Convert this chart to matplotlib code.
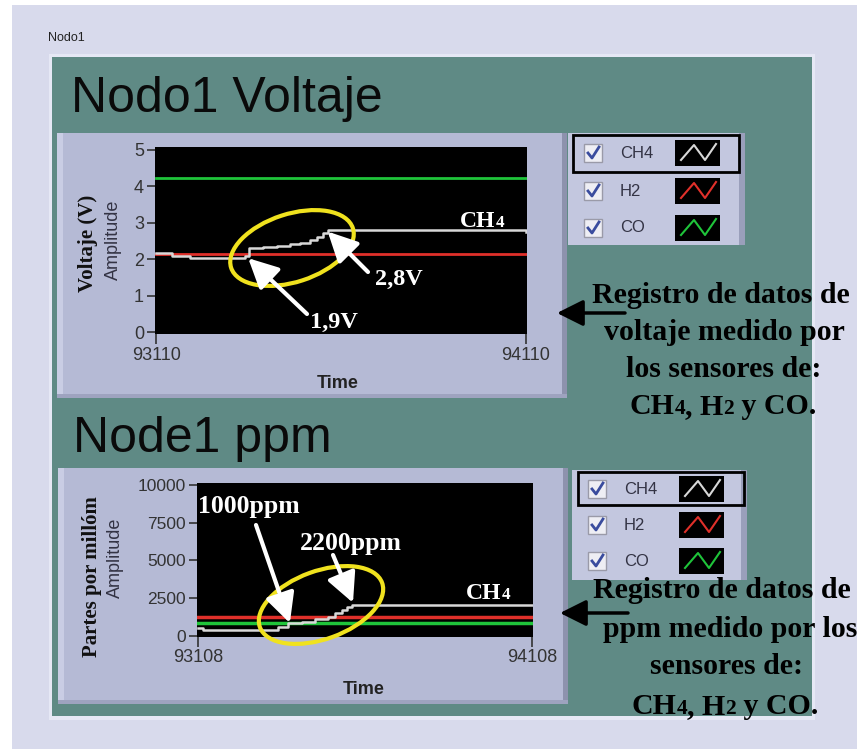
import matplotlib.pyplot as plt
from matplotlib.patches import Rectangle, Ellipse

# ---- datos ----
# Nodo1 Voltaje (V)
t_volt = [93110, 93153, 93202, 93351, 93362, 93400, 93436, 93472, 93499,
          93526, 93544, 93562, 93576, 94110]
ch4_volt = [2.17, 2.10, 2.04, 2.08, 2.30, 2.33, 2.37, 2.42, 2.46,
            2.52, 2.62, 2.72, 2.80, 2.75]
h2_volt = [2.14, 2.14]
co_volt = [4.24, 4.24]
xlim_volt = [93110, 94110]

# Node1 ppm
t_ppm = [93108, 93123, 93348, 93378, 93418, 93458, 93498, 93518, 93538,
         93553, 93568, 94108]
ch4_ppm = [560, 400, 620, 840, 950, 1100, 1280, 1500, 1720, 1900, 2070, 2070]
h2_ppm = [1270, 1270]
co_ppm = [850, 850]
xlim_ppm = [93108, 94108]

series = ['CH4', 'H2', 'CO']
colors = {'CH4': '#d8d8d8', 'H2': '#e0302a', 'CO': '#1fc43a'}

W, H = 860, 749
fig = plt.figure(figsize=(W / 100, H / 100), dpi=100)
fig.patch.set_facecolor('white')

bg = fig.add_axes([0, 0, 1, 1])
bg.set_xlim(0, W)
bg.set_ylim(H, 0)
bg.axis('off')

SANS = 'Liberation Sans'
SERIF = 'Liberation Serif'


def rect(x0, y0, x1, y1, **kw):
    bg.add_patch(Rectangle((x0, y0), x1 - x0, y1 - y0, **kw))


def px_axes(x0, y0, x1, y1):
    return fig.add_axes([x0 / W, 1 - y1 / H, (x1 - x0) / W, (y1 - y0) / H])


# fondo y panel
rect(12, 5, 857, 749, color='#d8daec', lw=0)
rect(49, 54, 815, 720, color='#e6e8f5', lw=0)
rect(52, 57, 812, 716, color='#5f8a85', lw=0)
bg.text(48, 38, 'Nodo1', fontsize=9, family=SANS, color='#222222', va='center')
bg.text(71, 112, 'Nodo1 Voltaje', fontsize=36, family=SANS, color='#0a0a0a', va='baseline')
bg.text(73, 452, 'Node1 ppm', fontsize=36, family=SANS, color='#0a0a0a', va='baseline')

# paneles de las graficas
for (x0, y0, x1, y1) in [(57, 133, 567, 398), (58, 468, 568, 704)]:
    rect(x0, y0, x1, y1, color='#b5bad5', lw=0)
    rect(x0, y0, x0 + 6, y1, color='#c9cde4', lw=0)
    rect(x1 - 5, y0, x1, y1, color='#8d92ad', lw=0)
    rect(x0, y1 - 4, x1, y1, color='#9ea3bf', lw=0)


def legend_panel(x0, y0, x1, y1, rows, box):
    rect(x0, y0, x1, y1, color='#c3c7df', lw=0)
    rect(x1 - 6, y0, x1, y1, color='#9a9fbb', lw=0)
    for name, yc in zip(series, rows):
        cx = x0 + 25
        rect(cx - 9, yc - 9, cx + 9, yc + 9, facecolor='#eeeef4', edgecolor='#9a9aa8', lw=1)
        bg.plot([cx - 5, cx - 1, cx + 6], [yc, yc + 5, yc - 6], color='#3a4c9e', lw=2)
        bg.text(x0 + 52, yc, name, fontsize=12, family=SANS, color='#333344', va='center')
        sx0, sx1 = x0 + 107, x0 + 152
        rect(sx0, yc - 13, sx1, yc + 13, color='black', lw=0)
        bg.plot([sx0 + 6, sx0 + 19, sx0 + 30, sx1 - 4],
                [yc + 7, yc - 8, yc + 7, yc - 9], color=colors[name], lw=1.5)
    bx0, by0, bx1, by1 = box
    rect(bx0, by0, bx1, by1, fill=False, edgecolor='black', lw=2)


legend_panel(568, 133, 745, 245, [153, 191, 228], (573, 135, 739, 172))
legend_panel(572, 470, 747, 580, [489, 525, 561], (578, 472, 744, 505))


# graficas
def setup(ax, xlim, ylim, yticks):
    ax.set_facecolor('black')
    ax.set_xlim(xlim)
    ax.set_ylim(ylim)
    ax.set_yticks(yticks)
    for s in ax.spines.values():
        s.set_visible(False)
    ax.tick_params(axis='y', length=6, width=1.2, color='#333333', labelsize=13,
                   labelcolor='#333333', pad=2)
    ax.tick_params(axis='x', length=7, width=1.2, color='#333333', labelsize=13,
                   labelcolor='#333333', pad=2)
    for lab in ax.get_yticklabels():
        lab.set_family(SANS)


ax1 = px_axes(155, 147, 527, 334)
setup(ax1, (93107, 94113), (-0.05, 5.08), [0, 1, 2, 3, 4, 5])
ax1.set_xticks(xlim_volt)
ax1.set_xticklabels([str(v) for v in xlim_volt], family=SANS)
ax1.plot(xlim_volt, co_volt, color=colors['CO'], lw=2)
ax1.plot(xlim_volt, h2_volt, color=colors['H2'], lw=2)
ax1.plot(t_volt, ch4_volt, color=colors['CH4'], lw=1.8, drawstyle='steps-post')

ax2 = px_axes(197, 483, 533, 637)
setup(ax2, (93105, 94111), (-66, 10132), [0, 2500, 5000, 7500, 10000])
ax2.tick_params(axis='y', labelsize=12.5)
ax2.set_xticks(xlim_ppm)
ax2.set_xticklabels([str(v) for v in xlim_ppm], family=SANS)
ax2.plot(xlim_ppm, h2_ppm, color=colors['H2'], lw=2.5)
ax2.plot(xlim_ppm, co_ppm, color=colors['CO'], lw=2.5)
ax2.plot(t_ppm, ch4_ppm, color=colors['CH4'], lw=1.8, drawstyle='steps-post')

# etiquetas de ejes
bg.text(88, 243, 'Voltaje (V)', rotation=90, fontsize=15, family=SERIF, weight='bold',
        ha='center', va='center', color='#111111')
bg.text(113, 240, 'Amplitude', rotation=90, fontsize=13, family=SANS,
        ha='center', va='center', color='#333344')
bg.text(338, 384, 'Time', fontsize=13, family=SANS, weight='bold',
        ha='center', va='center', color='#222222')
bg.text(92, 577, 'Partes por millóm', rotation=90, fontsize=15, family=SERIF, weight='bold',
        ha='center', va='center', color='#111111')
bg.text(115, 558, 'Amplitude', rotation=90, fontsize=13, family=SANS,
        ha='center', va='center', color='#333344')
bg.text(364, 689, 'Time', fontsize=13, family=SANS, weight='bold',
        ha='center', va='center', color='#222222')

# capa de anotaciones
ov = fig.add_axes([0, 0, 1, 1], zorder=10)
ov.set_xlim(0, W)
ov.set_ylim(H, 0)
ov.axis('off')
ov.patch.set_alpha(0)

ov.add_patch(Ellipse((292, 248), 128, 68, angle=-18, fill=False, edgecolor='#f0e21e', lw=3))
ov.add_patch(Ellipse((321, 605), 130, 68, angle=-20, fill=False, edgecolor='#f0e21e', lw=3))

arrow = dict(arrowstyle='-|>,head_length=0.9,head_width=0.45', lw=3, color='white',
             mutation_scale=20, shrinkA=0, shrinkB=0)
ov.annotate('', xy=(93359, 2.03), xycoords=ax1.transData,
            xytext=(307, 314), textcoords='data', arrowprops=arrow)
ov.annotate('', xy=(93574, 2.76), xycoords=ax1.transData,
            xytext=(368, 272), textcoords='data', arrowprops=arrow)
ov.annotate('', xy=(93383, 860), xycoords=ax2.transData,
            xytext=(256, 525), textcoords='data', arrowprops=arrow)
ov.annotate('', xy=(93572, 2200), xycoords=ax2.transData,
            xytext=(333, 555), textcoords='data', arrowprops=arrow)

wtxt = dict(family=SERIF, weight='bold', color='white', va='baseline')
ov.text(310, 328, '1,9V', fontsize=17.5, **wtxt)
ov.text(375, 285, '2,8V', fontsize=17.5, **wtxt)
ov.text(198, 513, '1000ppm', fontsize=18.5, **wtxt)
ov.text(300, 550, '2200ppm', fontsize=18.5, **wtxt)

renderer = fig.canvas.get_renderer()


def mixed(ax, x, y, parts, size, color='black', center=True):
    texts = []
    for s, small in parts:
        texts.append(ax.text(0, y, s, fontsize=size * 0.72 if small else size, family=SERIF,
                             weight='bold', color=color, va='baseline', ha='left'))
    widths = [t.get_window_extent(renderer).width for t in texts]
    x0 = x - sum(widths) / 2 if center else x
    for t, w in zip(texts, widths):
        t.set_x(x0)
        x0 += w


mixed(ov, 460, 227, [('CH', False), ('4', True)], 17, color='white', center=False)
mixed(ov, 466, 599, [('CH', False), ('4', True)], 17, color='white', center=False)

# texto explicativo de la derecha
ch4_line = [('CH', False), ('4', True), (', H', False), ('2', True), (' y CO.', False)]
for lines, ys, xs in [
    (['Registro de datos de', 'voltaje medido por', 'los sensores de:', None],
     [303, 340, 377, 414], [721, 724, 724, 723]),
    (['Registro de datos de', 'ppm medido por los', 'sensores de:', None],
     [598, 637, 674, 714], [722, 730, 727, 725]),
]:
    for line, y, x in zip(lines, ys, xs):
        if line is None:
            mixed(ov, x, y, ch4_line, 21.5)
        else:
            mixed(ov, x, y, [(line, False)], 21.5)

larrow = dict(arrowstyle='-|>,head_length=0.8,head_width=0.4', lw=2.5, color='black',
              mutation_scale=20, shrinkA=0, shrinkB=0)
ov.annotate('', xy=(557, 313), xytext=(625, 313), arrowprops=larrow)
ov.annotate('', xy=(560, 613), xytext=(628, 613), arrowprops=larrow)

fig.savefig('out.png', dpi=100, facecolor=fig.get_facecolor())
